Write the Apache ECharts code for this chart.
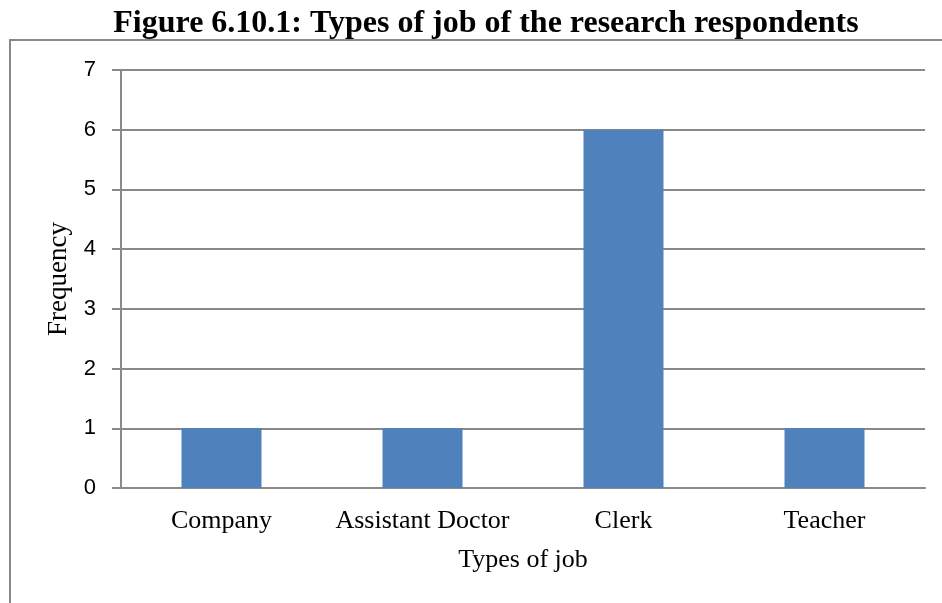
<!DOCTYPE html>
<html>
<head>
<meta charset="utf-8">
<script src="https://cdn.jsdelivr.net/npm/echarts@6/dist/echarts.min.js"></script>
<style>
  html, body { margin: 0; padding: 0; background: #fff; }
  #chart { width: 942px; height: 603px; }
</style>
</head>
<body>
<div id="chart"></div>
<script>
const jobTypes = ['Company', 'Assistant Doctor', 'Clerk', 'Teacher'];
const frequencies = [1, 1, 6, 1];
const yTicks = { min: 0, max: 7, interval: 1 };

const chart = echarts.init(document.getElementById('chart'), null, { renderer: 'canvas' });
const gray = '#898989';
const serif = '"Liberation Serif", "Times New Roman", serif';
const sans = '"Liberation Sans", Arial, sans-serif';

chart.setOption({
  animation: false,
  backgroundColor: '#fff',
  title: {
    text: 'Figure 6.10.1: Types of job of the research respondents',
    left: 481,
    textAlign: 'center',
    top: 3,
    textStyle: { fontFamily: serif, fontWeight: 'bold', fontSize: 32, color: '#000' }
  },
  graphic: [{
    type: 'polyline',
    shape: { points: [[10, 603], [10, 40], [942, 40]] },
    style: { stroke: gray, lineWidth: 2, fill: null },
    silent: true
  }],
  grid: { left: 121, top: 70, right: 17, bottom: 115, containLabel: false },
  xAxis: {
    type: 'category',
    data: jobTypes,
    name: 'Types of job',
    nameLocation: 'middle',
    nameGap: 59,
    nameTextStyle: { fontFamily: serif, fontSize: 26, color: '#000' },
    axisLine: { show: true, lineStyle: { color: gray, width: 2 } },
    axisTick: { show: false },
    axisLabel: { fontFamily: serif, fontSize: 26, color: '#000', margin: 20, interval: 0 }
  },
  yAxis: {
    type: 'value',
    min: yTicks.min,
    max: yTicks.max,
    interval: yTicks.interval,
    name: 'Frequency',
    nameLocation: 'middle',
    nameRotate: 90,
    nameGap: 46,
    nameTextStyle: { fontFamily: serif, fontSize: 27, color: '#000' },
    axisLine: { show: true, lineStyle: { color: gray, width: 2 } },
    axisTick: { show: true, length: 9, lineStyle: { color: gray, width: 2 } },
    axisLabel: { fontFamily: sans, fontSize: 22, color: '#000', margin: 25 },
    splitLine: { show: true, lineStyle: { color: gray, width: 2 } }
  },
  series: [{
    type: 'bar',
    data: frequencies,
    barWidth: 80,
    itemStyle: { color: '#4F81BD' }
  }]
});
</script>
</body>
</html>
